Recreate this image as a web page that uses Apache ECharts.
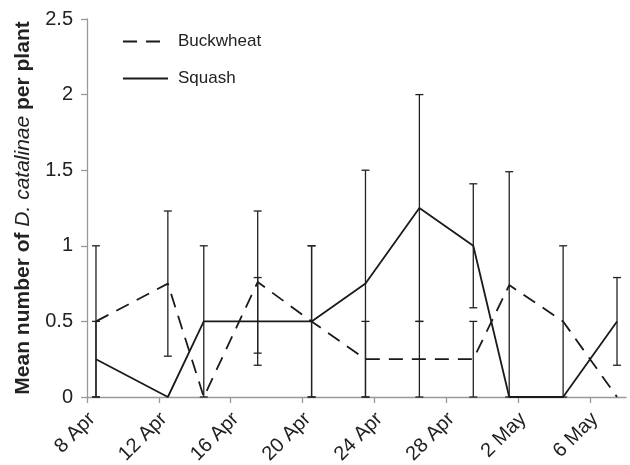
<!DOCTYPE html>
<html>
<head>
<meta charset="utf-8">
<script src="https://cdn.jsdelivr.net/npm/echarts@6/dist/echarts.min.js"></script>
<style>
html, body {margin: 0; padding: 0; background: #fff;}
#chart {width: 630px; height: 465px;}
</style>
</head>
<body>
<div id="chart"></div>
<script>
// days counted from 8 Apr
var sampleDays = [0.5, 4.5, 6.5, 9.5, 12.5, 15.5, 18.5, 21.5, 23.5, 26.5, 29.5];
var buckwheat = [0.5, 0.75, 0, 0.76, 0.5, 0.25, 0.25, 0.25, 0.74, 0.5, 0];
var buckwheatErr = [0.5, 0.48, 0, 0.47, 0.5, 0.25, 0.25, 0.25, 0.75, 0.5, 0];
var squash = [0.25, 0, 0.5, 0.5, 0.5, 0.75, 1.25, 1, 0, 0, 0.5];
var squashErr = [0.25, 0, 0.5, 0.29, 0.5, 0.75, 0.75, 0.41, 0, 0, 0.29];
var tickDays = [0, 4, 8, 12, 16, 20, 24, 28];
var tickLabels = ['8 Apr', '12 Apr', '16 Apr', '20 Apr', '24 Apr', '28 Apr', '2 May', '6 May'];

function pairs(vals) {
    return vals.map(function(v, i){return [sampleDays[i], v];});
};
function bars(vals, errs) {
    var out = [];
    vals.forEach(function(v, i){
        if (errs[i] > 0) out.push([sampleDays[i], Math.max(0, v - errs[i]), v + errs[i]]);
    });
    return out;
};
function errbar(params, api) {
    var lo = api.coord([api.value(0), api.value(1)]);
    var hi = api.coord([api.value(0), api.value(2)]);
    var w = 4;
    var st = {stroke: '#222', lineWidth: 1.3};
    return {type: 'group', children: [
        {type: 'line', shape: {x1: hi[0], y1: hi[1], x2: lo[0], y2: lo[1]}, style: st},
        {type: 'line', shape: {x1: hi[0]-w, y1: hi[1], x2: hi[0]+w, y2: hi[1]}, style: st},
        {type: 'line', shape: {x1: lo[0]-w, y1: lo[1], x2: lo[0]+w, y2: lo[1]}, style: st}
    ]};
};

var chart = echarts.init(document.getElementById('chart'));
var font = 'Liberation Sans, Arial, sans-serif';
var opt = {
    animation: false,
    textStyle: {fontFamily: font},
    grid: {left: 87, right: 4, top: 19, bottom: 68, outerBoundsMode: 'none', containLabel: false},
    legend: {
        orient: 'vertical', left: 122, top: 33, padding: 0,
        itemWidth: 45, itemHeight: 14, itemGap: 20,
        itemStyle: {color: 'transparent', borderWidth: 0},
        data: ['Buckwheat', 'Squash'],
        textStyle: {fontSize: 17, color: '#222', fontFamily: font, padding: [0,0,0,5]}
    },
    xAxis: {
        type: 'value', min: 0, max: 30,
        axisLine: {lineStyle: {color: '#999', width: 1.3}},
        axisTick: {show: true, length: 6, lineStyle: {color: '#999', width: 1.3}, customValues: tickDays},
        axisLabel: {
            customValues: tickDays, rotate: 45, fontSize: 20, lineHeight: 14, color: '#222', margin: 14,
            align: 'right', verticalAlign: 'top',
            formatter: function(v){return tickLabels[tickDays.indexOf(v)];}
        },
        splitLine: {show: false}
    },
    yAxis: {
        type: 'value', min: 0, max: 2.5, interval: 0.5,
        name: '{b|Mean number of }{i|D. catalinae}{b| per plant}',
        nameLocation: 'middle', nameGap: 53,
        nameTextStyle: {rich: {
            b: {fontSize: 21, fontWeight: 'bold', color: '#222', fontFamily: font},
            i: {fontSize: 21, fontStyle: 'italic', color: '#222', fontFamily: font}
        }},
        axisLine: {show: true, lineStyle: {color: '#999', width: 1.3}},
        axisTick: {show: true, length: 6, lineStyle: {color: '#999', width: 1.3}},
        axisLabel: {fontSize: 20, color: '#222', margin: 14},
        splitLine: {show: false}
    },
    series: [
        {type: 'custom', renderItem: errbar, data: bars(buckwheat, buckwheatErr), encode: {x: 0, y: [1, 2]}, z: 1, silent: true},
        {type: 'custom', renderItem: errbar, data: bars(squash, squashErr), encode: {x: 0, y: [1, 2]}, z: 1, silent: true},
        {
            name: 'Buckwheat', type: 'line', data: pairs(buckwheat), symbol: 'none', z: 3,
            lineStyle: {color: '#1a1a1a', width: 1.8, type: [14, 9]}, itemStyle: {color: '#1a1a1a'}
        },
        {
            name: 'Squash', type: 'line', data: pairs(squash), symbol: 'none', z: 3,
            lineStyle: {color: '#1a1a1a', width: 1.8}, itemStyle: {color: '#1a1a1a'}
        }
    ]
};
chart.setOption(opt);
</script>
</body>
</html>
